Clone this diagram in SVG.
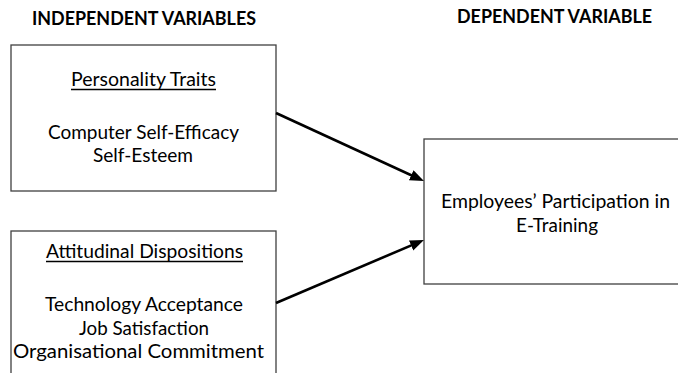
<svg xmlns="http://www.w3.org/2000/svg" width="678" height="373" viewBox="0 0 678 373">
  <style>
    .box { fill: #ffffff; stroke: #404040; stroke-width: 1.3; }
    .txt { font-family: Lato, "Open Sans", "Liberation Sans", sans-serif; font-size: 18.5px; fill: #000000; }
    .ttl { font-family: Lato, "Open Sans", "Liberation Sans", sans-serif; font-size: 18.5px; font-weight: bold; fill: #000000; }
    .ul { stroke: #000000; stroke-width: 1.3; }
    .conn { stroke: #000000; stroke-width: 2.6; fill: none; }
  </style>
  <defs>
    <marker id="arrow" markerUnits="userSpaceOnUse" markerWidth="15" markerHeight="12" refX="6" refY="5.5" orient="auto">
      <path d="M0,0 L14,5.5 L0,11 Z" fill="#000000"/>
    </marker>
  </defs>
  <rect width="678" height="373" fill="#ffffff"/>

  <g id="titles">
    <text class="ttl" x="32" y="25" textLength="224" lengthAdjust="spacingAndGlyphs">INDEPENDENT VARIABLES</text>
    <text class="ttl" x="457" y="23" textLength="195" lengthAdjust="spacingAndGlyphs">DEPENDENT VARIABLE</text>
  </g>

  <g id="personality-traits">
    <rect class="box" x="11" y="45" width="265" height="146"/>
    <text class="txt" x="71" y="86" textLength="145" lengthAdjust="spacingAndGlyphs">Personality Traits</text>
    <line class="ul" x1="71" y1="89.5" x2="216" y2="89.5"/>
    <text class="txt" x="48" y="139" textLength="191" lengthAdjust="spacingAndGlyphs">Computer Self-Efficacy</text>
    <text class="txt" x="93" y="162" textLength="100" lengthAdjust="spacingAndGlyphs">Self-Esteem</text>
  </g>

  <g id="attitudinal-dispositions">
    <rect class="box" x="11" y="231" width="265" height="160"/>
    <text class="txt" x="46" y="258" textLength="197" lengthAdjust="spacingAndGlyphs">Attitudinal Dispositions</text>
    <line class="ul" x1="46" y1="261.5" x2="243" y2="261.5"/>
    <text class="txt" x="45" y="311" textLength="198" lengthAdjust="spacingAndGlyphs">Technology Acceptance</text>
    <text class="txt" x="79" y="335" textLength="130" lengthAdjust="spacingAndGlyphs">Job Satisfaction</text>
    <text class="txt" x="13" y="358" textLength="251" lengthAdjust="spacingAndGlyphs">Organisational Commitment</text>
  </g>

  <g id="employees-participation">
    <rect class="box" x="424" y="139" width="270" height="145"/>
    <text class="txt" x="441" y="208" textLength="229" lengthAdjust="spacingAndGlyphs">Employees’ Participation in</text>
    <text class="txt" x="516" y="232" textLength="82" lengthAdjust="spacingAndGlyphs">E-Training</text>
  </g>

  <g id="connectors">
    <line class="conn" x1="276" y1="113" x2="416.7" y2="177.7" marker-end="url(#arrow)"/>
    <line class="conn" x1="276" y1="303" x2="416.6" y2="243.1" marker-end="url(#arrow)"/>
  </g>
</svg>
